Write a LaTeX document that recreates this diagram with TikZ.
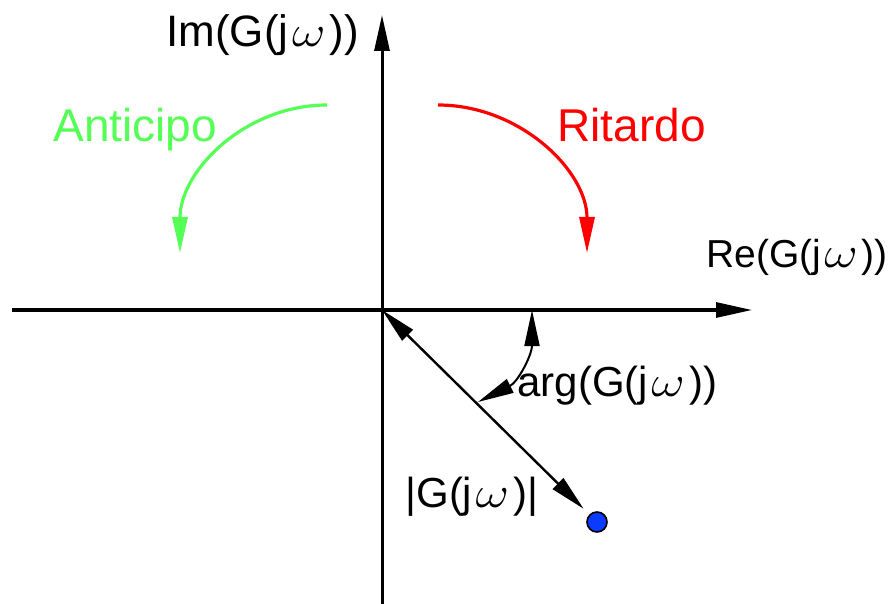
\documentclass[tikz,border=0pt]{standalone}
\usepackage{fontspec}
\setmainfont{Liberation Sans}
\usepackage{tikz}
\usetikzlibrary{arrows.meta, positioning}
\definecolor{anticipogreen}{HTML}{55FF55}
\definecolor{ritardored}{HTML}{FF0000}
\definecolor{pointblue}{HTML}{0A3CFF}
\newcommand{\om}{\hspace{0.08em}\scalebox{1.25}[1.05]{$\omega$}\hspace{0.1em}}

\begin{document}
\begin{tikzpicture}[x=0.5pt, y=-0.5pt, >={Triangle[length=18pt, width=7.5pt]},
    axis/.style={line width=1.5pt, ->},
    swing/.style={line width=1.6pt, ->},
    lbl/.style={anchor=base west, inner sep=0pt, font=\fontsize{21}{25}\selectfont}]
    \useasboundingbox (0,0) rectangle (894,604);

    % ── AXES ──────────────────────────────────────────────────────────
    \coordinate (O) at (382,310);
    \coordinate (xmin) at (12,310);
    \coordinate (xmax) at (752,310);
    \coordinate (ymin) at (382,604);
    \coordinate (ymax) at (382,15);
    \draw[axis] (xmin) -- (xmax);
    \draw[axis] (ymin) -- (ymax);
    \node[lbl, font=\fontsize{22}{26}\selectfont] (imlabel) at (166,47) {Im(G(j\om))};
    \node[lbl, font=\fontsize{19.5}{24}\selectfont] (relabel) at (706,268) {Re(G(j\om))};

    % ── LEAD / LAG ────────────────────────────────────────────────────
    \coordinate (leadstart) at (327,105);
    \coordinate (leadend) at (180,253);
    \draw[swing, anticipogreen] (leadstart) .. controls +(-82,0) and +(0,-82) .. (leadend);
    \node[lbl, anticipogreen, font=\fontsize{23}{27}\selectfont] (anticipo) at (53,142) {Anticipo};

    \coordinate (lagstart) at (438,105);
    \coordinate (lagend) at (587,253);
    \draw[swing, ritardored] (lagstart) .. controls +(82,0) and +(0,-82) .. (lagend);
    \node[lbl, ritardored, font=\fontsize{23}{27}\selectfont] (ritardo) at (557,142) {Ritardo};

    % ── POINT, MODULE AND PHASE ───────────────────────────────────────
    \node[circle, draw, fill=pointblue, line width=0.8pt, minimum size=10pt, inner sep=0pt] (pt) at (597,522) {};
    \draw[<->, line width=1.2pt, shorten >=4pt] (O) -- (pt);

    \coordinate (argstart) at (478,402);
    \coordinate (argend) at (532,310);
    \draw[<->, line width=1pt] (argstart) .. controls +(40,-20) and +(0,45) .. (argend);
    \node[lbl] (arglabel) at (517,396) {arg(G(j\om))};
    \node[lbl] (maglabel) at (405,507) {|G(j\om)|};
\end{tikzpicture}
\end{document}
